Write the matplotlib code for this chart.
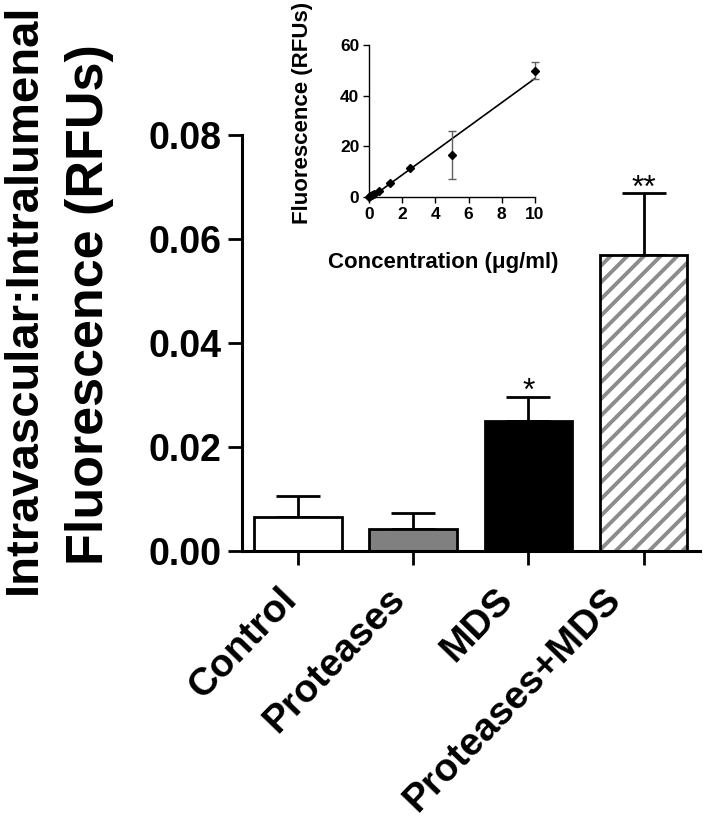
import numpy as np
import matplotlib
matplotlib.use("Agg")
import matplotlib.pyplot as plt
import matplotlib.transforms as mtransforms

plt.rcParams['font.family'] = ['Liberation Sans', 'DejaVu Sans']
plt.rcParams['font.weight'] = 'bold'
plt.rcParams['hatch.linewidth'] = 2.8

# main bar chart data
groups = ['Control', 'Proteases', 'MDS', 'Proteases+MDS']
ratio_mean = [0.0065, 0.0042, 0.0250, 0.0569]
ratio_sem = [0.0041, 0.0031, 0.0046, 0.0119]
signif = ['', '', '*', '**']

# inset standard curve
conc = [0, 0.078, 0.156, 0.3125, 0.625, 1.25, 2.5, 5, 10]
fluor = [0.0, 0.3, 0.6, 1.2, 2.4, 5.4, 11.3, 16.6, 49.9]
fluor_sd = [0, 0, 0, 0, 0, 0, 0, 9.4, 3.3]

fig = plt.figure(figsize=(7.03, 8.25), dpi=100)
ax = fig.add_axes([0.3442, 0.3321, 0.6515, 0.5042])

x = np.arange(len(groups))
w = 0.76
ax.bar(x[:3], ratio_mean[:3], w, color=['white', '#808080', 'black'],
       edgecolor='black', linewidth=2.0, zorder=2)
# hatched bar: gray hatch first, black outline on top
ax.bar(x[3], ratio_mean[3], w, color='white', edgecolor='#8c8c8c',
       hatch='//', linewidth=0, zorder=2)
ax.bar(x[3], ratio_mean[3], w, fill=False, edgecolor='black',
       linewidth=2.0, zorder=3)
ax.errorbar(x, ratio_mean, yerr=[np.zeros(4), ratio_sem], fmt='none',
            ecolor='black', elinewidth=2.0, capsize=16, capthick=2.0, zorder=1)
for xi, m, s, t in zip(x, ratio_mean, ratio_sem, signif):
    if t:
        ax.text(xi, m + s - 0.0006, t, ha='center', va='baseline', fontsize=23,
                fontweight='normal')

ax.set_xlim(-0.487, 3.49)
ax.set_ylim(0, 0.08)
ax.set_yticks([0, 0.02, 0.04, 0.06, 0.08])
ax.set_yticklabels(['0.00', '0.02', '0.04', '0.06', '0.08'], fontsize=27,
                   fontweight='bold')
ax.set_xticks(x)
ax.set_xticklabels([])
# category labels drawn as text: slightly tighter pitch than the ticks
for i, g in enumerate(groups):
    tr = ax.get_xaxis_transform() + mtransforms.ScaledTranslation(
        -0.20 - 0.07 * i, -0.30, fig.dpi_scale_trans)
    ax.text(x[i], 0, g, transform=tr, fontsize=28, fontweight='bold',
            rotation=46, ha='right', va='top', rotation_mode='anchor')
ax.tick_params(axis='both', direction='out', length=10, width=2.0, pad=5)
for sp in ['top', 'right']:
    ax.spines[sp].set_visible(False)
for sp in ['left', 'bottom']:
    ax.spines[sp].set_linewidth(2.2)

fig.text(24 / 703, 1 - 299 / 825, 'Intravascular:Intralumenal', rotation=90,
         ha='center', va='center', fontsize=34, fontweight='bold')
fig.text(90 / 703, 1 - 305 / 825, 'Fluorescence (RFUs)', rotation=90,
         ha='center', va='center', fontsize=37.5, fontweight='bold')

# inset
ins = fig.add_axes([0.5249, 0.7612, 0.2361, 0.1842])
slope, icpt = np.polyfit(conc, fluor, 1)
xx = np.array([min(conc), max(conc)])
ins.plot(xx, slope * xx + icpt, color='black', lw=1.2, zorder=2)
ins.errorbar(conc, fluor, yerr=fluor_sd, fmt='D', color='black', ms=4.5,
             ecolor='#606060', elinewidth=1, capsize=3, capthick=1,
             clip_on=False, zorder=3)
ins.set_xlim(0, 10)
ins.set_ylim(0, 60)
ins.set_xticks([0, 2, 4, 6, 8, 10])
ins.set_yticks([0, 20, 40, 60])
ins.tick_params(direction='out', length=4, width=1, labelsize=12.5, pad=3)
for lab in ins.get_xticklabels() + ins.get_yticklabels():
    lab.set_fontweight('bold')
for sp in ['top', 'right']:
    ins.spines[sp].set_visible(False)
for sp in ['left', 'bottom']:
    ins.spines[sp].set_linewidth(1)
ins.set_xlabel('Concentration (\u03bcg/ml)', fontsize=16, fontweight='bold')
ins.set_ylabel('Fluorescence (RFUs)', fontsize=16, fontweight='bold')
ins.xaxis.set_label_coords(0.446, -0.36)
ins.yaxis.set_label_coords(-0.40, 0.553)
ins.yaxis.label.set_va('center')

fig.savefig('out.png', dpi=100)
